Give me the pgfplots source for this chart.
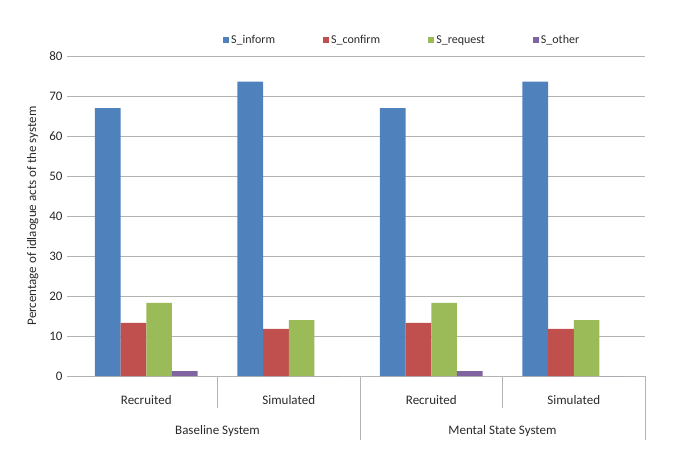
\documentclass[border=0pt]{standalone}
\usepackage{pgfplots}
\pgfplotsset{compat=1.18}
\usepackage{fontspec}
\setmainfont{Carlito}
\definecolor{cblue}{HTML}{4F81BD}
\definecolor{cred}{HTML}{C0504D}
\definecolor{cgreen}{HTML}{9BBB59}
\definecolor{cpurple}{HTML}{8064A2}
\definecolor{gridgray}{HTML}{B3B3B3}
\definecolor{txt}{HTML}{2A2A2A}
\begin{document}
\begin{tikzpicture}[x=1pt,y=1pt]
\path[use as bounding box] (0,0) rectangle (685,469);
\begin{axis}[
  at={(75pt,93pt)}, anchor=south west,
  width=570pt, height=320pt, scale only axis,
  ymin=0, ymax=80, ytick={0,10,...,80},
  xmin=-0.5, xmax=3.5,
  xtick={0,1,2,3},
  xticklabels={Recruited,Simulated,Recruited,Simulated},
  ybar=0pt, bar width=0.18,
  axis x line*=bottom, axis y line*=left,
  y axis line style={draw=none},
  x axis line style={draw=gridgray, line width=0.8pt},
  ymajorgrids, grid style={draw=gridgray, line width=0.8pt},
  tick align=outside, major tick length=8pt,
  ytick style={draw=gridgray, line width=0.8pt},
  xtick style={draw=none},
  /pgf/number format/assume math mode=true,
  yticklabel style={font=\fontsize{13}{13}\selectfont, text=txt, xshift=-1pt},
  xticklabel style={font=\fontsize{13}{13}\selectfont, text=txt, yshift=-8pt},
  ylabel={Percentage of idlaogue acts of the system},
  ylabel style={font=\fontsize{13}{13}\selectfont, text=txt, yshift=4pt},
  legend columns=4,
  legend style={draw=none, fill=none, at={(0.574,1.05)}, anchor=center,
    font=\fontsize{12}{12}\selectfont, text=txt,
    /tikz/every even column/.append style={column sep=46pt}},
  legend image code/.code={\fill[#1] (0pt,-3pt) rectangle (6pt,3pt);},
  clip=false,
]
\addplot[fill=cblue, draw=none] coordinates {(0,67.0) (1,73.6) (2,67.0) (3,73.6)};
\addplot[fill=cred, draw=none] coordinates {(0,13.3) (1,11.8) (2,13.3) (3,11.8)};
\addplot[fill=cgreen, draw=none] coordinates {(0,18.3) (1,14.0) (2,18.3) (3,14.0)};
\addplot[fill=cpurple, draw=none] coordinates {(0,1.2) (1,0) (2,1.2) (3,0)};
\legend{S\_inform, S\_confirm, S\_request, S\_other}
\draw[gridgray, line width=0.8pt] (axis cs:0.5,0) -- ([yshift=-32pt]axis cs:0.5,0);
\draw[gridgray, line width=0.8pt] (axis cs:2.5,0) -- ([yshift=-32pt]axis cs:2.5,0);
\draw[gridgray, line width=0.8pt] (axis cs:1.5,0) -- ([yshift=-64pt]axis cs:1.5,0);
\draw[gridgray, line width=0.8pt] (axis cs:3.5,0) -- ([yshift=-64pt]axis cs:3.5,0);
\node[font=\fontsize{13}{13}\selectfont, text=txt] at ([yshift=-55pt]axis cs:0.5,0) {Baseline System};
\node[font=\fontsize{13}{13}\selectfont, text=txt] at ([yshift=-55pt]axis cs:2.5,0) {Mental State System};
\end{axis}
\end{tikzpicture}
\end{document}
